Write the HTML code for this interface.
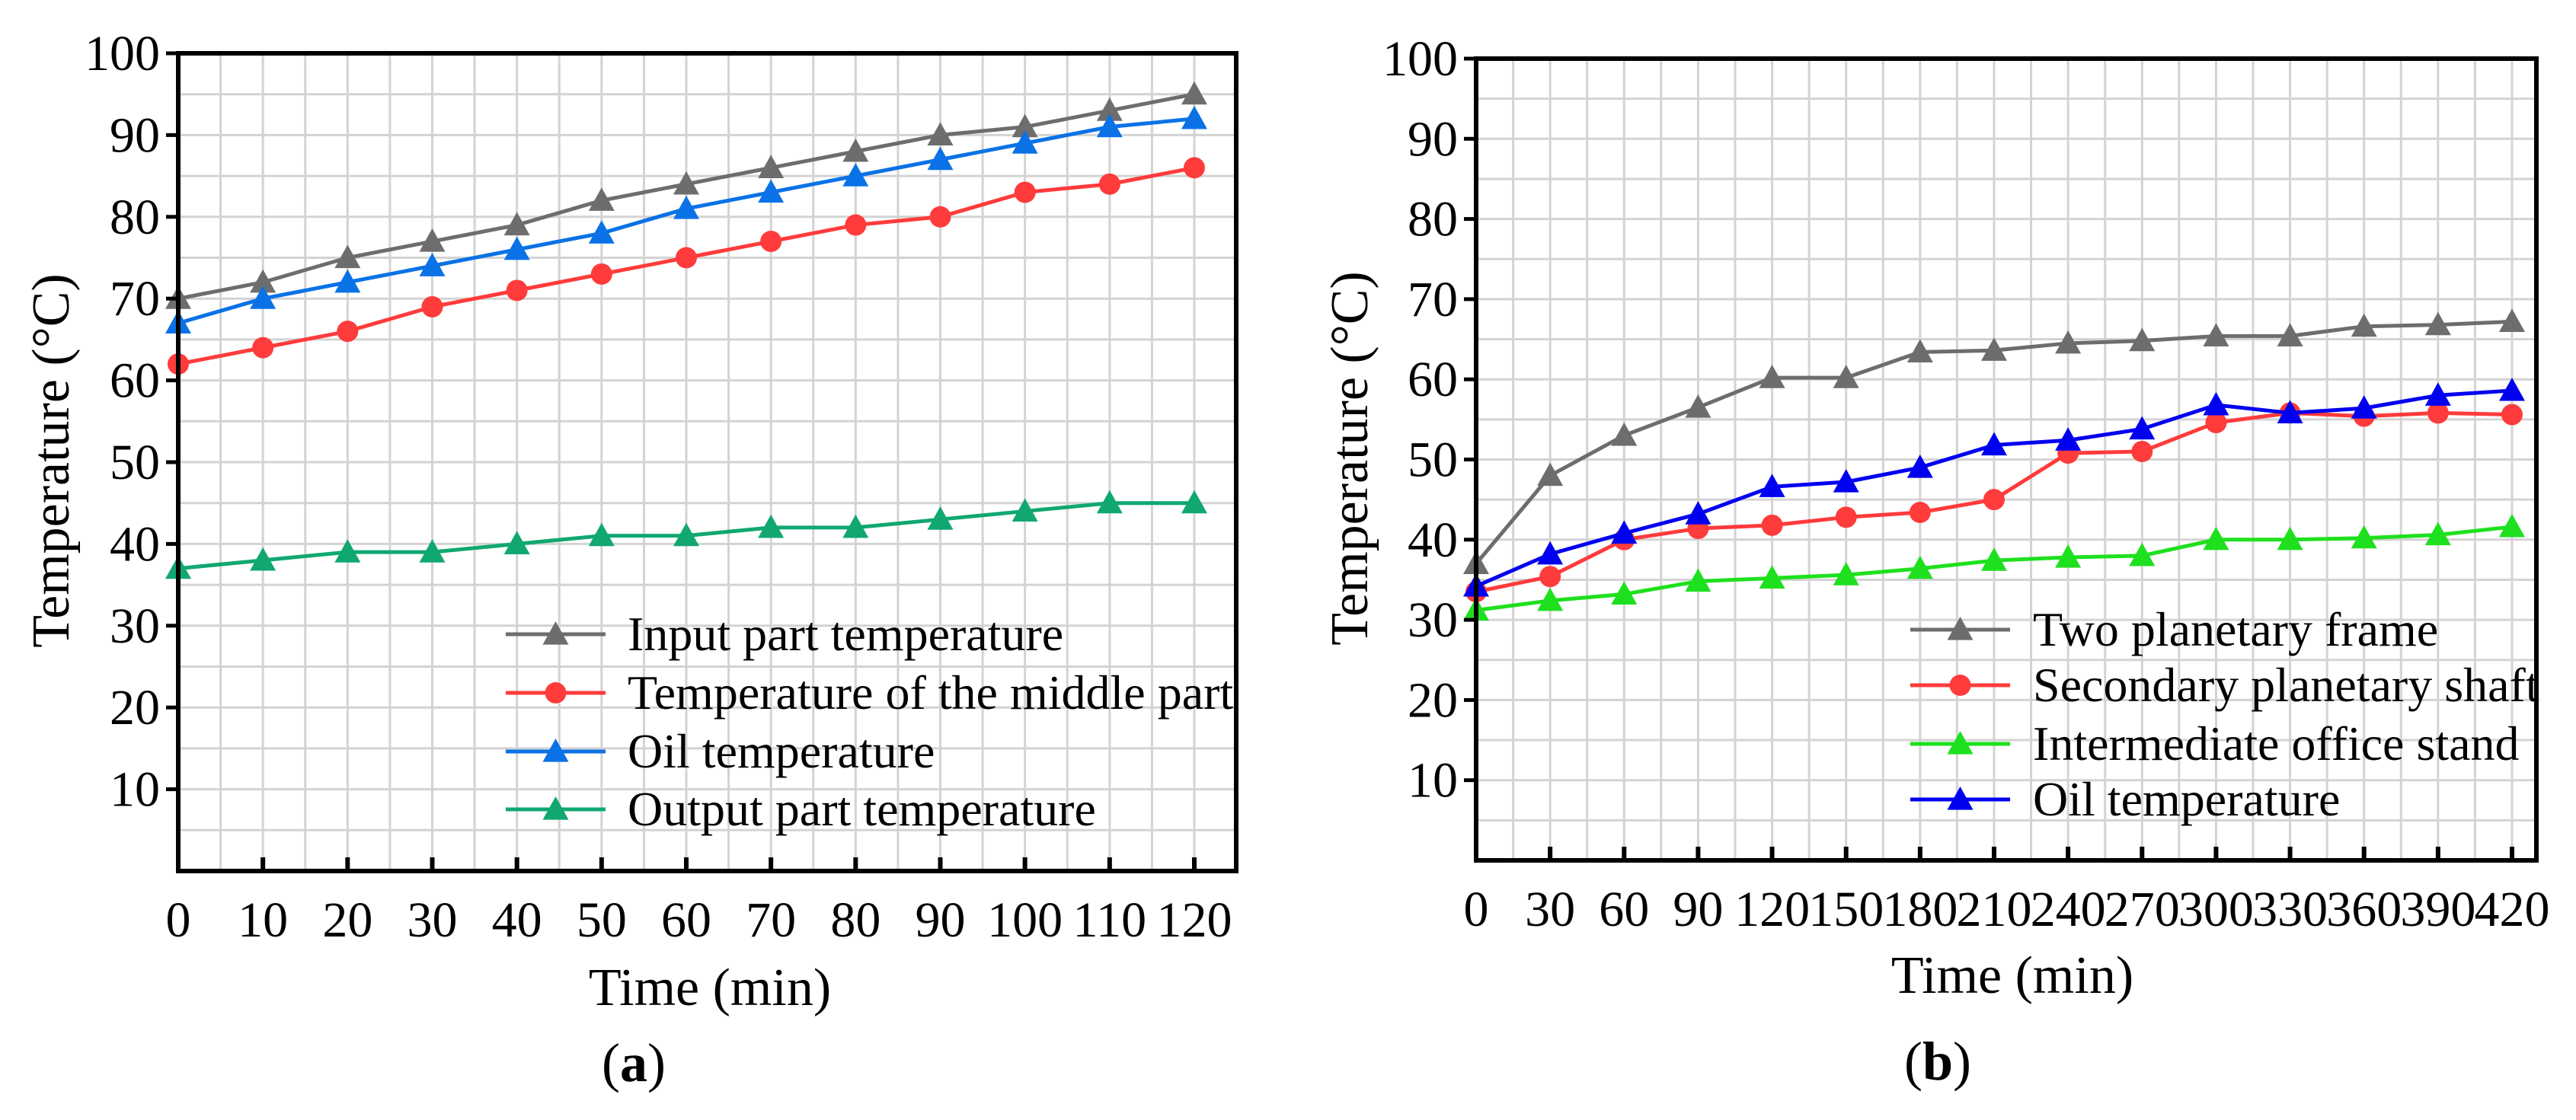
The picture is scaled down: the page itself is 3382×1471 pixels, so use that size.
<!DOCTYPE html>
<html><head><meta charset="utf-8"><style>
html,body{margin:0;padding:0;background:#fff;}
svg{display:block;font-family:"Liberation Serif",serif;}
</style></head><body>
<svg id="fig" width="3382" height="1471" viewBox="0 0 3382 1471"></svg>
<script>
// ---- Panel (a) data ----
const aTimes = [0,10,20,30,40,50,60,70,80,90,100,110,120];
const aInput = [70,72,75,77,79,82,84,86,88,90,91,93,95];
const aMiddle = [62,64,66,69,71,73,75,77,79,80,83,84,86];
const aOil = [67,70,72,74,76,78,81,83,85,87,89,91,92];
const aOutput = [37,38,39,39,40,41,41,42,42,43,44,45,45];
const aXTicks = [0,10,20,30,40,50,60,70,80,90,100,110,120];
const yTicks = [10,20,30,40,50,60,70,80,90,100];
// ---- Panel (b) data ----
const bTimes = [0,30,60,90,120,150,180,210,240,270,300,330,360,390,420];
const bFrame = [37,48,53,56.5,60.2,60.2,63.4,63.6,64.5,64.8,65.4,65.4,66.6,66.8,67.2];
const bShaft = [33.5,35.4,40,41.4,41.8,42.8,43.4,45,50.8,51,54.6,55.8,55.4,55.8,55.6];
const bStand = [31.2,32.4,33.2,34.8,35.2,35.6,36.4,37.4,37.8,38,40,40,40.2,40.6,41.6];
const bOil = [34.2,38.2,40.8,43.2,46.6,47.2,49,51.8,52.4,53.8,56.8,55.8,56.4,58,58.6];
const bXTicks = [0,30,60,90,120,150,180,210,240,270,300,330,360,390,420];

const NS="http://www.w3.org/2000/svg";
const svg=document.getElementById('fig');
function mk(tag,attrs,parent,text){const e=document.createElementNS(NS,tag);for(const k in attrs)e.setAttribute(k,attrs[k]);if(text!==undefined)e.textContent=text;(parent||svg).appendChild(e);return e;}

function marker(g,type,x,y,color){
  let m;
  if(type==='tri'){const s=17;m=mk('polygon',{points:`${x},${y-s} ${x-s},${y+s*0.8} ${x+s},${y+s*0.8}`,fill:color},g);}
  else {m=mk('circle',{cx:x,cy:y,r:14,fill:color},g);}
  return m;
}

function panel(cfg){
  const {L,R,T,B,xmax,xdomMax,xTicks,minorX,series,legend,name}=cfg;
  const sx=v=>L+(v/xmax)*(cfg.xAt-L);
  const sy=v=>B-(v/100)*(B-T);
  const g=mk('g',{});
  
  
  const grid=mk('g',{},g);
  
  
  for(let v=minorX;v<xdomMax;v+=minorX){const x=sx(v);if(x>=R-2)break;mk('line',{x1:x,x2:x,y1:T,y2:B,stroke:'#d3d3d3','stroke-width':3},grid);}
  for(let v=5;v<100;v+=5){const y=sy(v);mk('line',{x1:L,x2:R,y1:y,y2:y,stroke:'#d3d3d3','stroke-width':3},grid);}
  series.forEach(s=>{
    const sg=mk('g',{},g);
    
    
    const pts=s.x.map((xv,i)=>sx(xv)+','+sy(s.y[i])).join(' ');
    mk('polyline',{points:pts,fill:'none',stroke:s.color,'stroke-width':5},sg);
    s.x.forEach((xv,i)=>{const m=marker(sg,s.type,sx(xv),sy(s.y[i]),s.color);
      
      });
  });
  const fr=mk('rect',{x:L,y:T,width:R-L,height:B-T,fill:'none',stroke:'#000','stroke-width':6},g);
  
  
  xTicks.forEach(v=>{const x=sx(v);mk('line',{x1:x,x2:x,y1:B,y2:B-18,stroke:'#000','stroke-width':6},g);
    const t=mk('text',{x:x,y:B+86,'font-size':cfg.tickFs,'text-anchor':'middle'},g,String(v));
    
    });
  yTicks.forEach(v=>{const y=sy(v);mk('line',{x1:L,x2:L-16,y1:y,y2:y,stroke:'#000','stroke-width':5},g);
    const t=mk('text',{x:L-24,y:y+22,'font-size':66,'text-anchor':'end'},g,String(v));
    
    });
  const xt=mk('text',{x:cfg.xtX,y:cfg.xtY,'font-size':70,'text-anchor':'middle'},g,'Time (min)');
  
  
  const yt=mk('text',{x:0,y:0,'font-size':70,'text-anchor':'middle',transform:`translate(${cfg.ytX},${cfg.ytY}) rotate(-90)`},g,'Temperature (°C)');
  
  
  const pl=mk('text',{x:cfg.plX,y:cfg.plY,'font-size':72,'text-anchor':'middle'},g);
  
  
  mk('tspan',{},pl,'(');mk('tspan',{'font-weight':'bold'},pl,cfg.letter);mk('tspan',{},pl,')');
  const lg=mk('g',{},g);
  
  
  series.forEach((s,i)=>{
    const y=legend.ys[i];
    const e=mk('g',{},lg);
    
    
    mk('line',{x1:legend.x1,x2:legend.x2,y1:y,y2:y,stroke:s.color,'stroke-width':5},e);
    marker(e,s.type,(legend.x1+legend.x2)/2,y,s.color);
    mk('text',{x:legend.tx,y:y+21,'font-size':64},e,s.label);
  });
}

panel({name:'panel-a',letter:'a',L:234,R:1623,T:70,B:1144,xmax:120,xAt:1568,xdomMax:125,minorX:5,xTicks:aXTicks,tickFs:66,
  series:[
    {name:'input-part-series',label:'Input part temperature',x:aTimes,y:aInput,color:'#6d6d6d',type:'tri'},
    {name:'middle-part-series',label:'Temperature of the middle part',x:aTimes,y:aMiddle,color:'#ff3b3b',type:'circ'},
    {name:'oil-series',label:'Oil temperature',x:aTimes,y:aOil,color:'#0a72e6',type:'tri'},
    {name:'output-part-series',label:'Output part temperature',x:aTimes,y:aOutput,color:'#10a870',type:'tri'}],
  legend:{x1:664,x2:795,tx:824,ys:[833,910,987,1063]},
  xtX:932,xtY:1320,ytX:90,ytY:605,plX:832,plY:1420});

panel({name:'panel-b',letter:'b',L:1938,R:3330,T:77,B:1130,xmax:420,xAt:3298,xdomMax:435,minorX:15,xTicks:bXTicks,tickFs:66,
  series:[
    {name:'planetary-frame-series',label:'Two planetary frame',x:bTimes,y:bFrame,color:'#6d6d6d',type:'tri'},
    {name:'planetary-shaft-series',label:'Secondary planetary shaft',x:bTimes,y:bShaft,color:'#ff3b3b',type:'circ'},
    {name:'office-stand-series',label:'Intermediate office stand',x:bTimes,y:bStand,color:'#1ee01e',type:'tri'},
    {name:'oil-series-b',label:'Oil temperature',x:bTimes,y:bOil,color:'#0000f0',type:'tri'}],
  legend:{x1:2508,x2:2639,tx:2669,ys:[827,900,977,1050]},
  xtX:2642,xtY:1304,ytX:1795,ytY:602,plX:2544,plY:1418});
</script>
</body></html>
